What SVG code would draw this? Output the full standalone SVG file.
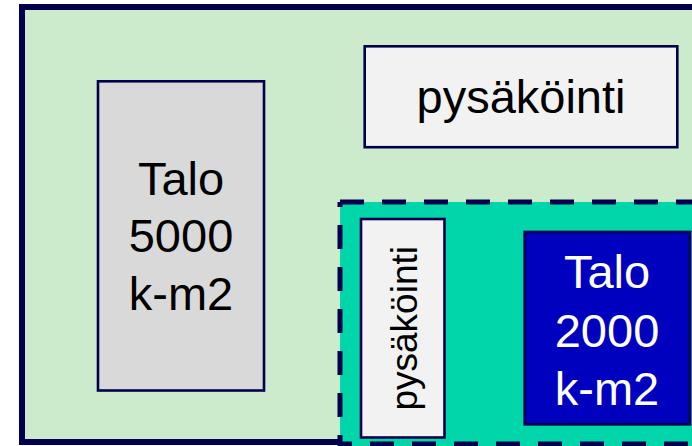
<svg xmlns="http://www.w3.org/2000/svg" width="692" height="446" viewBox="0 0 692 446">
<style>
.lbl{font-family:"Liberation Sans",Arial,sans-serif;text-anchor:middle}
.edge{stroke:#00004d}
.dash{stroke:#00004d;stroke-width:5;fill:none;stroke-dasharray:24 18}
</style>
<rect width="692" height="446" fill="#ffffff"/>
<g id="site">
<rect x="22" y="7" width="720" height="435" fill="#cceacc" class="edge" stroke-width="6"/>
</g>
<g id="talo5000">
<rect x="98" y="81.3" width="166" height="309.2" fill="#d9d9d9" class="edge" stroke-width="2.6"/>
<text class="lbl" x="181" y="195" font-size="47" fill="#000000">Talo</text>
<text class="lbl" x="181" y="252" font-size="47" fill="#000000">5000</text>
<text class="lbl" x="181" y="310" font-size="47" fill="#000000">k-m2</text>
</g>
<g id="pysakointi-top">
<rect x="364.7" y="46.3" width="312.6" height="100.9" fill="#f2f2f2" class="edge" stroke-width="2.6"/>
<text class="lbl" x="521" y="112.7" font-size="47" fill="#000000">pysäköinti</text>
</g>
<g id="plot">
<rect x="340" y="202" width="400" height="250" fill="#00d6a9"/>
<line x1="340" y1="202" x2="700" y2="202" class="dash"/>
<line x1="340" y1="202" x2="340" y2="446" class="dash" stroke-dashoffset="19"/>
<line x1="340" y1="444" x2="700" y2="444" class="dash" stroke-dashoffset="12"/>
</g>
<g id="pysakointi-side">
<rect x="361" y="219" width="83.5" height="218.5" fill="#f2f2f2" class="edge" stroke-width="2.6"/>
<text class="lbl" transform="translate(416.7,328.3) rotate(-90)" x="0" y="0" font-size="37" fill="#000000">pysäköinti</text>
</g>
<g id="talo2000">
<rect x="524.7" y="232" width="165.3" height="192.3" fill="#0000bf" class="edge" stroke-width="2.7"/>
<text class="lbl" x="607" y="288.3" font-size="47" fill="#ffffff">Talo</text>
<text class="lbl" x="607" y="346.7" font-size="47" fill="#ffffff">2000</text>
<text class="lbl" x="607" y="405" font-size="47" fill="#ffffff">k-m2</text>
</g>
</svg>
